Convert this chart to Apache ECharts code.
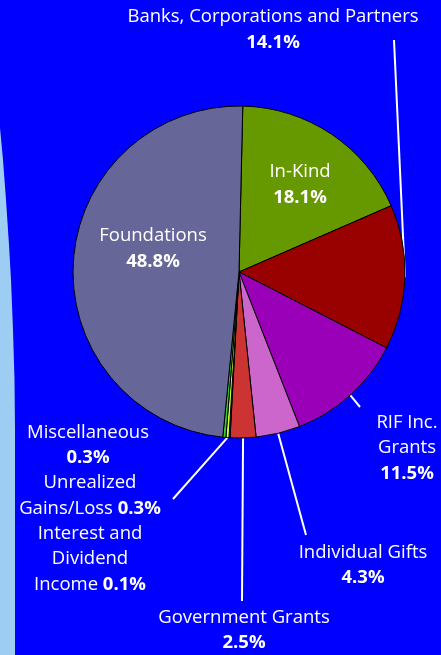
<!DOCTYPE html>
<html><head><meta charset="utf-8">
<script src="https://cdn.jsdelivr.net/npm/echarts@6/dist/echarts.min.js"></script>
<style>html,body{margin:0;padding:0;background:#0000ff;}#c{width:441px;height:655px;}</style>
</head><body><div id="c"></div>
<script>
// ---- data ----
const categories = ['In-Kind', 'Banks, Corporations and Partners', 'RIF Inc. Grants', 'Individual Gifts', 'Government Grants', 'Interest and Dividend Income', 'Unrealized Gains/Loss', 'Miscellaneous', 'Foundations'];
const percentages = [18.1, 14.1, 11.5, 4.3, 2.5, 0.1, 0.3, 0.3, 48.8];
const labelText = ['In-Kind', 'Banks, Corporations and Partners', 'RIF Inc.\nGrants', 'Individual Gifts', 'Government Grants', 'Interest and\nDividend\nIncome', 'Unrealized\nGains/Loss', 'Miscellaneous', 'Foundations'];
const inlineValue = [false, false, false, false, false, true, true, false, false];
const colors = ['#669900', '#990000', '#9900b8', '#cc66cc', '#cc3333', '#9933cc', '#ccff33', '#33cc33', '#666699'];

// ---- label layout (positions only) ----
const labelCenter = [[300, 184.5], [273, 29.5], [407, 448], [363, 565], [244, 630], [90, 559], [90, 495.5], [88, 445], [153, 248.5]];
const lineEnd = [null, [394, 40], [360, 407], [306, 535], [242, 601], null, [173, 499], null, null];

const chart = echarts.init(document.getElementById('c'), null, { renderer: 'canvas' });
const FONT = '"Open Sans", "DejaVu Sans", sans-serif';
const FS = 18.5;
const LH = 25.5;

chart.setOption({
  backgroundColor: '#0000ff',
  animation: false,
  graphic: [{
    type: 'polygon',
    z: 0,
    shape: { points: [[0, 128], [3, 160], [6, 200], [9, 245], [11, 280], [13, 330], [14.5, 380], [15, 430], [15, 655], [0, 655]] },
    style: { fill: '#9dcdf3' }
  }],
  series: [{
    type: 'pie',
    center: [239, 272],
    radius: 166,
    startAngle: 88.7,
    clockwise: true,
    avoidLabelOverlap: false,
    emphasis: { disabled: true },
    itemStyle: { borderColor: '#000', borderWidth: 1 },
    label: {
      show: true,
      position: 'outside',
      alignTo: 'none',
      overflow: 'none',
      color: '#fff',
      fontFamily: FONT,
      fontSize: FS,
      lineHeight: LH,
      align: 'center',
      formatter: function (p) {
        const i = p.dataIndex;
        const lines = labelText[i].split('\n');
        const v = '{b|' + p.value.toFixed(1) + '%}';
        const out = lines.map(s => '{n|' + s + '}');
        if (inlineValue[i]) {
          out[out.length - 1] = '{n|' + lines[lines.length - 1] + ' }' + v;
        } else {
          out.push(v);
        }
        return out.join('\n');
      },
      rich: {
        n: { color: '#fff', fontFamily: FONT, fontSize: FS, lineHeight: LH, align: 'center' },
        b: { color: '#fff', fontFamily: FONT, fontSize: FS, fontWeight: 'bold', lineHeight: LH, align: 'center' }
      }
    },
    labelLine: { show: true, length: 10, length2: 0, lineStyle: { color: '#fff', width: 2 } },
    labelLayout: function (p) {
      const i = p.dataIndex;
      const c = labelCenter[i];
      const o = { x: c[0], y: c[1], align: 'center', verticalAlign: 'middle' };
      if (lineEnd[i] && p.labelLinePoints) {
        o.labelLinePoints = [p.labelLinePoints[0], lineEnd[i]];
      }
      return o;
    },
    data: categories.map((name, i) => ({
      name: name,
      value: percentages[i],
      itemStyle: { color: colors[i] },
      labelLine: { show: lineEnd[i] !== null }
    }))
  }]
});
</script>
</body></html>
